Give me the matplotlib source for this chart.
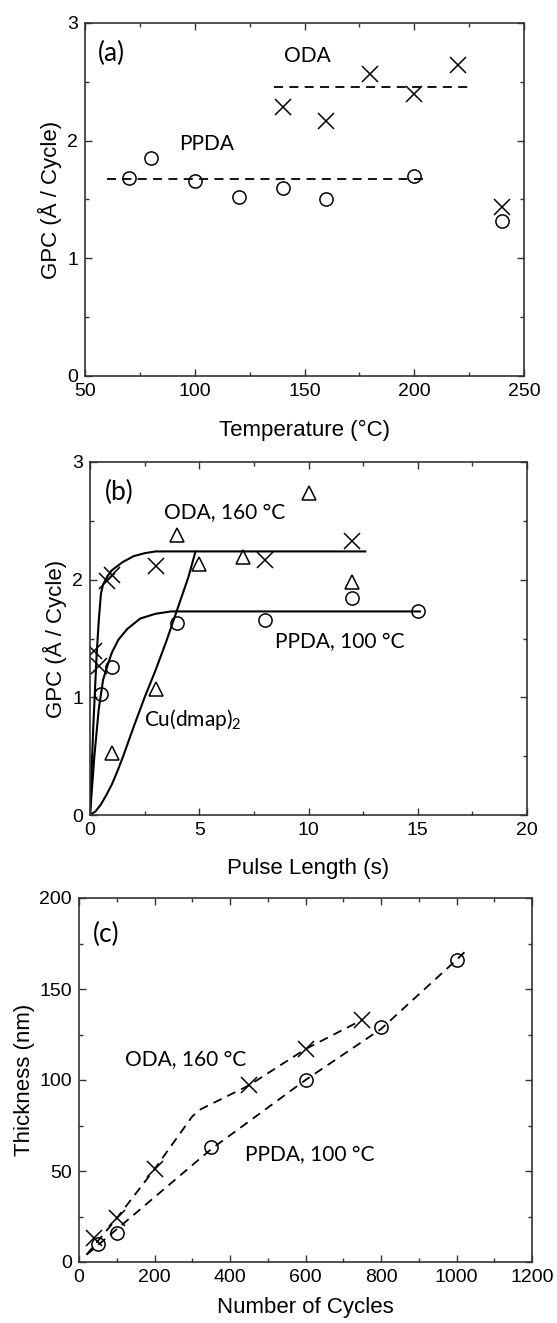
import matplotlib
matplotlib.use("Agg")
import matplotlib.pyplot as plt
from matplotlib.ticker import MultipleLocator

plt.rcParams['font.family'] = ['Liberation Sans', 'DejaVu Sans']
plt.rcParams['mathtext.fontset'] = 'custom'
plt.rcParams['mathtext.rm'] = 'Lato'
ANNOT_FONT = ['Lato', 'DejaVu Sans']

# ---- (a) GPC vs temperature
temp_ppda = [70, 80, 100, 120, 140, 160, 200, 240]
gpc_ppda_t = [1.68, 1.85, 1.66, 1.52, 1.60, 1.50, 1.70, 1.32]
temp_oda = [140, 160, 180, 200, 220, 240]
gpc_oda_t = [2.29, 2.17, 2.57, 2.40, 2.64, 1.44]
ppda_avg_x = [60, 204]
ppda_avg_y = [1.673, 1.673]
oda_avg_x = [136, 225]
oda_avg_y = [2.452, 2.452]

# ---- (b) GPC vs pulse length
pulse_oda = [0.2, 0.4, 0.8, 1.0, 3, 8, 12]
gpc_oda_p = [1.39, 1.27, 1.99, 2.04, 2.12, 2.17, 2.33]
pulse_ppda = [0.5, 1, 4, 8, 12, 15]
gpc_ppda_p = [1.03, 1.26, 1.63, 1.66, 1.84, 1.73]
pulse_cu = [1, 3, 4, 5, 7, 10, 12]
gpc_cu = [0.53, 1.07, 2.38, 2.13, 2.19, 2.74, 1.98]
# fitted curves
fit_oda_x = [0, 0.15, 0.3, 0.4, 0.5, 0.6, 0.8, 1.0, 1.5, 2.0, 2.5, 3.0, 12.6]
fit_oda_y = [0, 0.75, 1.35, 1.65, 1.88, 1.96, 2.03, 2.08, 2.15, 2.2, 2.225, 2.24, 2.24]
fit_ppda_x = [0, 0.2, 0.4, 0.6, 0.8, 1.0, 1.3, 1.7, 2.3, 3.0, 3.7, 15.1]
fit_ppda_y = [0, 0.5, 0.9, 1.15, 1.27, 1.38, 1.49, 1.58, 1.67, 1.71, 1.73, 1.73]
fit_cu_x = [0, 0.25, 0.5, 0.75, 1.0, 1.25, 1.5, 2.0, 2.5, 3.0, 3.5, 4.0, 4.5, 4.83]
fit_cu_y = [0, 0.03, 0.09, 0.17, 0.26, 0.37, 0.49, 0.75, 1.0, 1.23, 1.48, 1.75, 2.02, 2.24]

# ---- (c) thickness vs number of cycles
cyc_ppda = [50, 100, 350, 600, 800, 1000]
thk_ppda = [10, 16, 63, 100, 129, 166]
cyc_oda = [40, 100, 200, 450, 600, 750]
thk_oda = [13, 24, 51, 97, 117, 133]
guide_ppda_x = [20, 100, 350, 600, 800, 1000, 1030]
guide_ppda_y = [4, 18, 62, 100, 128, 166, 172]
guide_oda_x = [20, 100, 200, 300, 323, 450, 600, 750]
guide_oda_y = [4, 24, 51, 80, 84, 97, 117, 133]

W, H = 557, 1323
fig = plt.figure(figsize=(W / 100, H / 100), dpi=100)


def box(l, t, r, b):
    return [l / W, 1 - b / H, (r - l) / W, (b - t) / H]


def style_axes(ax, xmaj, xmin, ymaj, ymin):
    ax.xaxis.set_major_locator(MultipleLocator(xmaj))
    ax.xaxis.set_minor_locator(MultipleLocator(xmin))
    ax.yaxis.set_major_locator(MultipleLocator(ymaj))
    ax.yaxis.set_minor_locator(MultipleLocator(ymin))
    ax.tick_params(which='both', direction='in', top=True, right=True,
                   color='#333333', labelsize=14, pad=5)
    ax.tick_params(which='major', length=5, width=1)
    ax.tick_params(which='minor', length=3, width=1)
    for s in ax.spines.values():
        s.set_color('#333333')
        s.set_linewidth(1.2)


mk = dict(linestyle='none', color='black', markerfacecolor='none',
          markeredgewidth=1.1)
dash = (0, (5, 3.5))

# (a)
ax1 = fig.add_axes(box(85, 23, 524, 376))
ax1.plot(ppda_avg_x, ppda_avg_y, color='black', lw=1.3, linestyle=dash)
ax1.plot(oda_avg_x, oda_avg_y, color='black', lw=1.3, linestyle=dash)
ax1.plot(temp_ppda, gpc_ppda_t, marker='o', markersize=9.5, **mk)
ax1.plot(temp_oda, gpc_oda_t, marker='x', markersize=11.5, **mk)
ax1.set_xlim(50, 250)
ax1.set_ylim(0, 3)
style_axes(ax1, 50, 25, 1, 0.5)
ax1.set_xlabel('Temperature (°C)', fontsize=16, labelpad=14)
ax1.set_ylabel('GPC (Å / Cycle)', fontsize=16, labelpad=4)
ax1.text(55.7, 2.745, '(a)', fontsize=19, family=ANNOT_FONT, va='center')
ax1.text(140.5, 2.72, 'ODA', fontsize=15, family=ANNOT_FONT, va='center')
ax1.text(92.8, 1.97, 'PPDA', fontsize=15, family=ANNOT_FONT, va='center')

# (b)
ax2 = fig.add_axes(box(90, 462, 527, 815))
ax2.plot(fit_oda_x, fit_oda_y, color='black', lw=1.5)
ax2.plot(fit_ppda_x, fit_ppda_y, color='black', lw=1.5)
ax2.plot(fit_cu_x, fit_cu_y, color='black', lw=1.5)
ax2.plot(pulse_oda, gpc_oda_p, marker='x', markersize=11.5, **mk)
ax2.plot(pulse_ppda, gpc_ppda_p, marker='o', markersize=9.5, **mk)
ax2.plot(pulse_cu, gpc_cu, marker='^', markersize=10.5, **mk)
ax2.set_xlim(0, 20)
ax2.set_ylim(0, 3)
style_axes(ax2, 5, 2.5, 1, 0.5)
ax2.set_xlabel('Pulse Length (s)', fontsize=16, labelpad=14)
ax2.set_ylabel('GPC (Å / Cycle)', fontsize=16, labelpad=4)
ax2.text(0.68, 2.74, '(b)', fontsize=19, family=ANNOT_FONT, va='center')
ax2.text(3.39, 2.57, 'ODA, 160 °C', fontsize=15, family=ANNOT_FONT, va='center')
ax2.text(8.46, 1.47, 'PPDA, 100 °C', fontsize=15, family=ANNOT_FONT, va='center')
ax2.text(2.46, 0.81, r'Cu(dmap)$\mathregular{_2}$', fontsize=15,
         family=ANNOT_FONT, va='center')

# (c)
ax3 = fig.add_axes(box(79, 898, 532, 1262))
ax3.plot(guide_ppda_x, guide_ppda_y, color='black', lw=1.3, linestyle=dash)
ax3.plot(guide_oda_x, guide_oda_y, color='black', lw=1.3, linestyle=dash)
ax3.plot(cyc_ppda, thk_ppda, marker='o', markersize=9.5, **mk)
ax3.plot(cyc_oda, thk_oda, marker='x', markersize=11.5, **mk)
ax3.set_xlim(0, 1200)
ax3.set_ylim(0, 200)
style_axes(ax3, 200, 100, 50, 25)
ax3.set_xlabel('Number of Cycles', fontsize=16, labelpad=8)
ax3.set_ylabel('Thickness (nm)', fontsize=16, labelpad=3)
ax3.text(37.6, 180, '(c)', fontsize=19, family=ANNOT_FONT, va='center')
ax3.text(122, 111, 'ODA, 160 °C', fontsize=15, family=ANNOT_FONT, va='center')
ax3.text(440, 59, 'PPDA, 100 °C', fontsize=15, family=ANNOT_FONT, va='center')

fig.savefig('out.png', dpi=100)
